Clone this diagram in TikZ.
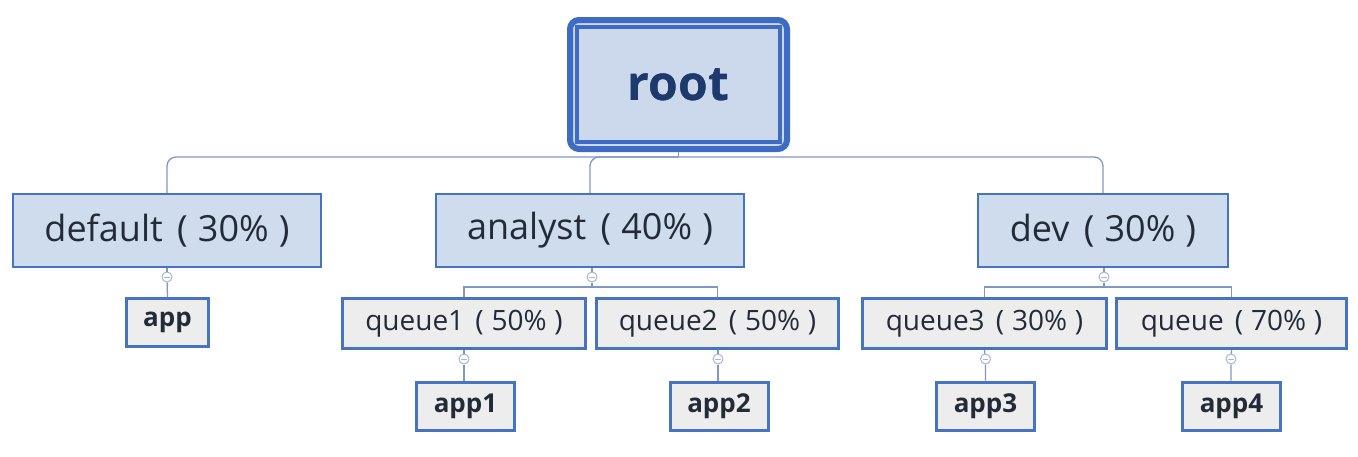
\documentclass[tikz,border=0pt]{standalone}
\usepackage{fontspec}
\setmainfont{Open Sans}
\definecolor{bordblue}{HTML}{4674C2}
\definecolor{rootblue}{HTML}{3E6BC4}
\definecolor{lvlfill}{HTML}{CFDCEE}
\definecolor{rootfill}{HTML}{CCD9EC}
\definecolor{grayfill}{HTML}{EDEDED}
\definecolor{txt}{HTML}{232B38}
\definecolor{roottxt}{HTML}{1E3A6C}
\definecolor{conn}{HTML}{7F97C6}
\definecolor{collapse}{HTML}{A9B6D2}
\newcommand{\mysp}{\hspace{0.4em}}
\newcommand{\myip}{\hspace{0.28em}}
\tikzset{
  lvlone/.style={draw=bordblue, fill=lvlfill, line width=2.5pt, inner sep=0pt,
    minimum height=73pt, text=txt, font=\fontsize{36}{40}\selectfont},
  lvltwo/.style={draw=bordblue, fill=grayfill, line width=3pt, inner sep=0pt,
    minimum height=50pt, text=txt, font=\fontsize{28}{30}\selectfont},
  appbox/.style={draw=bordblue, fill=grayfill, line width=3pt, inner sep=0pt,
    minimum height=48pt, text=txt, font=\fontsize{26}{30}\selectfont\bfseries},
  connline/.style={draw=conn, line width=1.3pt},
  colbtn/.style={circle, draw=collapse, fill=white, line width=1pt, minimum size=10pt, inner sep=0pt,
    path picture={\draw[collapse, line width=0.9pt] ([xshift=-2.6pt]path picture bounding box.center) -- ([xshift=2.6pt]path picture bounding box.center);}}
}
\begin{document}
\begin{tikzpicture}[x=1pt, y=-1pt]
\useasboundingbox[fill=white] (0,0) rectangle (1358,456);

% root
\node[draw=rootblue, fill=rootfill, line width=6pt, rounded corners=9pt,
      minimum width=217pt, minimum height=129pt, inner sep=0pt,
      text=roottxt, font=\fontsize{48}{60}\selectfont\bfseries] (root) at (678.5,84.5) {root};
\draw[rootblue, line width=4pt] ([shift={(10pt,-10pt)}]root.north west) rectangle ([shift={(-10pt,10pt)}]root.south east);
\node[text=roottxt, font=\fontsize{48}{60}\selectfont\bfseries] at (root.center) {root};

% level 1
\node[lvlone, minimum width=308pt] (default) at (167,230.5) {default\mysp(\myip30\%\myip)\hspace{14pt}};
\node[lvlone, minimum width=308pt] (analyst) at (590,230.5) {analyst\mysp(\myip40\%\myip)\hspace{14pt}};
\node[lvlone, minimum width=250pt] (dev) at (1103,230.5) {dev\mysp(\myip30\%\myip)\hspace{14pt}};

% level 2
\node[appbox, minimum width=82pt] (app) at (167.5,322.5) {app};
\node[lvltwo, minimum width=243pt] (queue1) at (464,323.5) {queue1\mysp(\myip50\%\myip)\hspace{8pt}};
\node[lvltwo, minimum width=242pt] (queue2) at (717.5,323.5) {queue2\mysp(\myip50\%\myip)\hspace{8pt}};
\node[lvltwo, minimum width=244pt] (queue3) at (984.5,323.5) {queue3\mysp(\myip30\%\myip)\hspace{8pt}};
\node[lvltwo, minimum width=230pt] (queue) at (1231.5,323.5) {queue\mysp(\myip70\%\myip)\hspace{8pt}};

% level 3
\node[appbox, minimum width=98pt] (app1) at (465.5,406) {app1};
\node[appbox, minimum width=98pt] (app2) at (719,406) {app2};
\node[appbox, minimum width=98pt] (app3) at (985.5,406) {app3};
\node[appbox, minimum width=98pt] (app4) at (1231.5,406) {app4};

% trunk from root
\coordinate (trunk) at (678.5,157);
\draw[connline] (root.south) -- (trunk);
\draw[connline, rounded corners=9pt] (default.north) |- (trunk) -| (dev.north);
\draw[connline, rounded corners=9pt] (analyst.north) |- (trunk);

% collapse buttons level 1
\node[colbtn] (cd) at (167,277) {};
\node[colbtn] (ca) at (592,277) {};
\node[colbtn] (cv) at (1104,277) {};
\draw[connline] (default.south) -- (cd);
\draw[connline] (cd) -- (app.north);
\draw[connline] (ca.north |- analyst.south) -- (ca);
\draw[connline] (cv.north |- dev.south) -- (cv);
\coordinate (abus) at (592,287);
\coordinate (vbus) at (1104,287);
\draw[connline] (ca) -- (abus);
\draw[connline] (cv) -- (vbus);
\draw[connline] (queue1.north) |- (abus) -| (queue2.north);
\draw[connline] (queue3.north) |- (vbus) -| (queue.north);

% collapse buttons level 2
\node[colbtn] (c1) at (464,359) {};
\node[colbtn] (c2) at (718,359) {};
\node[colbtn] (c3) at (985.5,359) {};
\node[colbtn] (c4) at (1231,359) {};
\draw[connline] (queue1.south) -- (c1) -- (c1 |- app1.north);
\draw[connline] (c2 |- queue2.south) -- (c2) -- (c2 |- app2.north);
\draw[connline] (queue3.south) -- (c3) -- (c3 |- app3.north);
\draw[connline] (queue.south) -- (c4) -- (c4 |- app4.north);
\end{tikzpicture}
\end{document}
